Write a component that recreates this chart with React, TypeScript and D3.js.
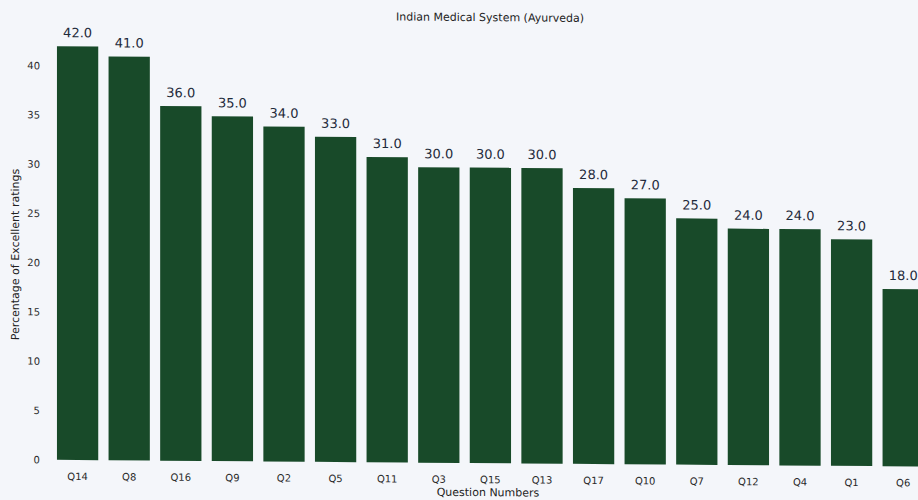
import React from "react";
import * as d3 from "d3";

const categories = ["Q14","Q8","Q16","Q9","Q2","Q5","Q11","Q3","Q15","Q13","Q17","Q10","Q7","Q12","Q4","Q1","Q6"];
const values = [42,41,36,35,34,33,31,30,30,30,28,27,25,24,24,23,18];
const yTicks = [0,5,10,15,20,25,30,35,40];
const title = "Indian Medical System (Ayurveda)";
const xTitle = "Question Numbers";
const yTitle = "Percentage of Excellent ratings";

export default function App() {
  const W = 918, H = 500;
  const x = d3.scaleBand<string>().domain(categories).range([51.8, 929]).paddingInner(0.2).paddingOuter(0.1);
  const y = d3.scaleLinear().domain([0, 40]).range([460, 66]);
  const font = "'DejaVu Sans', sans-serif";
  const k = 0.0077; // slight skew of the scanned page
  return (
    <div>
      <style>{"body{margin:0}"}</style>
      <svg width={W} height={H} style={{ display: "block", background: "#f4f6fa" }}>
        <rect x={0} y={0} width={W} height={H} fill="#f4f6fa" />
        <g transform={`matrix(1, ${k}, 0, 1, 0, ${-k * 77})`}>
          {categories.map((c, i) => (
            <g key={c}>
              <rect x={x(c)} y={y(values[i])} width={x.bandwidth()} height={y(0) - y(values[i])} fill="#184a29" />
              <text x={(x(c) as number) + x.bandwidth() / 2} y={y(values[i]) - 9} textAnchor="middle" fontFamily={font} fontSize={13} fill="#1e2a3a">
                {values[i].toFixed(1)}
              </text>
              <text x={(x(c) as number) + x.bandwidth() / 2} y={480} textAnchor="middle" fontFamily={font} fontSize={10} fill="#2a2a2a">{c}</text>
            </g>
          ))}
          {yTicks.map(t => (
            <text key={t} x={40} y={y(t) + 3.5} textAnchor="end" fontFamily={font} fontSize={10} fill="#2a2a2a">{t}</text>
          ))}
          <text x={490} y={18} textAnchor="middle" fontFamily={font} fontSize={11} fill="#222">{title}</text>
          <text x={488} y={493} textAnchor="middle" fontFamily={font} fontSize={11} fill="#222">{xTitle}</text>
          <text transform={`translate(19,255) rotate(-90)`} textAnchor="middle" fontFamily={font} fontSize={11} fill="#222">{yTitle}</text>
        </g>
      </svg>
    </div>
  );
}
